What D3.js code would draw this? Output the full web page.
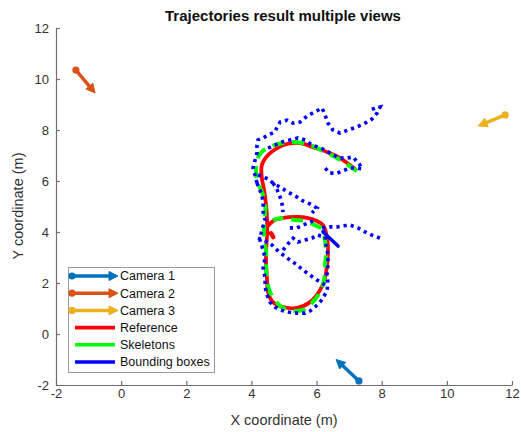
<!DOCTYPE html>
<html><head><meta charset="utf-8">
<script src="https://cdn.jsdelivr.net/npm/d3@7"></script>
<style>body{margin:0;background:#fff}svg{display:block}</style>
</head><body>
<svg id="chart" width="521" height="432"></svg>
<script>
// ---------- data ----------
const xTicks = [-2, 0, 2, 4, 6, 8, 10, 12];
const yTicks = [-2, 0, 2, 4, 6, 8, 10, 12];
const cameraNames = ["Camera 1", "Camera 2", "Camera 3"];
const cameraStart = [[7.30, -1.84], [-1.39, 10.35], [11.79, 8.59]];
const cameraEnd = [[6.60, -1.00], [-0.80, 9.45], [10.96, 8.16]];
const cameraColors = ["#0072BD", "#D95319", "#EDB120"];
const trackNames = ["Reference", "Skeletons", "Bounding boxes"];
const trackColors = ["#ff0000", "#00ff00", "#0000ff"];

const referenceTrack = [[7.18,6.47],[6.72,6.90],[6.32,7.14],[5.89,7.33],[5.49,7.49],[5.09,7.45],[4.79,7.29],[4.51,7.02],[4.32,6.63],[4.32,6.12],[4.39,5.65],[4.45,5.06],[4.48,4.47],[4.48,3.88],[4.45,3.29],[4.45,2.71],[4.48,2.12],[4.51,1.65],[4.66,1.25],[4.97,1.06],[5.40,1.02],[5.80,1.25],[6.11,1.73],[6.26,2.20],[6.32,2.71],[6.35,3.29],[6.32,3.80],[6.20,4.27],[6.01,4.43],[5.71,4.55],[5.40,4.59],[4.97,4.55],[4.66,4.43],[4.51,4.24]];
const referenceBlob = [[4.60,3.95],[4.67,3.80]];

const skeletonTrack = [[7.24,6.39],[6.87,6.71],[6.57,6.94],[6.26,7.14],[5.80,7.41],[5.34,7.53],[4.97,7.49],[4.63,7.37],[4.32,7.14],[4.17,6.82],[4.14,6.43],[4.17,6.04],[4.32,5.57],[4.42,5.14],[4.42,4.67],[4.39,4.16],[4.39,3.69],[4.45,3.22],[4.45,2.71],[4.48,2.12],[4.57,1.65],[4.76,1.25],[5.03,0.98],[5.34,0.90],[5.65,0.98],[5.86,1.22],[6.11,1.65],[6.23,2.12],[6.26,2.71],[6.29,3.18],[6.26,3.65],[6.17,4.12],[5.95,4.27],[5.65,4.43],[5.34,4.47],[4.97,4.55],[4.66,4.47]];

const bboxTrack = [
 [4.17,5.92],[4.11,6.24],[4.05,6.51],[4.17,7.10],[4.17,7.41],[4.20,7.61],[4.36,7.69],[4.51,7.80],[4.72,7.92],[4.79,8.12],[4.88,8.31],[5.09,8.39],[5.28,8.27],[5.49,8.31],[5.71,8.55],[5.95,8.71],[6.17,8.86],[6.26,8.59],[6.35,8.27],[6.50,8.00],[6.72,7.88],[6.97,8.00],[7.24,8.12],[7.49,8.27],[7.70,8.43],[7.86,8.67],[7.95,8.90],[7.80,8.86],[7.64,8.78],
 null,
 [4.51,7.29],[4.72,7.41],[4.94,7.53],[5.18,7.61],[5.43,7.69],[5.65,7.61],[5.86,7.41],[6.04,7.33],[6.26,7.22],[6.50,7.02],[6.72,6.90],[6.93,6.90],[7.12,6.94],[7.33,6.63],[7.40,6.47],[7.24,6.51],[7.03,6.51],[6.87,6.43],[6.63,6.31],[6.41,6.31],[6.26,6.51],
 null,
 [4.17,5.92],[4.26,5.65],[4.32,5.45],[4.36,5.14],[4.36,4.78],[4.42,4.47],[4.32,4.08],[4.26,3.69],[4.36,3.29],[4.42,2.98],[4.36,2.59],[4.42,2.20],[4.42,1.84],[4.48,1.53],[4.57,1.25],[4.72,1.06],[4.88,0.94],[5.12,0.86],[5.40,0.82],[5.65,0.82],[5.80,0.90],[5.95,1.06],[6.11,1.25],[6.23,1.49],[6.32,1.69],[6.35,2.00],[6.32,2.31],[6.35,2.71],[6.35,3.10],[6.29,3.49],[6.26,3.80],[6.20,4.08],
 null,
 [4.20,6.24],[4.36,6.16],[4.51,6.08],[4.66,5.92],[4.88,5.76],[5.12,5.57],[5.40,5.37],[5.58,5.22],[5.80,5.10],[6.01,4.94],[5.86,4.75],
 null,
 [4.66,5.92],[4.79,5.65],[4.88,5.37],[4.94,5.10],[4.97,4.78],
 null,
 [6.17,4.16],[6.41,4.20],[6.63,4.20],[6.81,4.24],[7.03,4.27],[7.27,4.16],[7.49,4.00],[7.70,3.88],[7.95,3.76],
 null,
 [4.20,3.76],[4.36,3.69],[4.51,3.61],[4.63,3.49],[4.79,3.29],[4.97,3.10],[5.18,2.90],[5.40,2.71],[5.58,2.51],[5.80,2.31],[6.01,2.12],[6.17,2.00],[6.29,1.88],
 null,
 [4.97,3.29],[5.12,3.53],[5.28,3.76],[5.43,3.61],[5.65,3.69],[5.86,3.76],[6.01,3.88],[6.17,3.84],
 null,
 [5.18,4.16],[5.40,4.16],[5.58,4.27],[5.74,4.35],[5.89,4.43]
];
const bboxDense = [[6.20,4.00],[6.66,3.45]];

// ---------- layout ----------
const svg = d3.select("#chart");
const X0 = 56, X1 = 512, Y0 = 385, Y1 = 28;
const x = d3.scaleLinear().domain([-2, 12]).range([X0, X1]);
const y = d3.scaleLinear().domain([-2, 12]).range([Y0, Y1]);
const FONT = "'Liberation Sans', Arial, Helvetica, sans-serif";
const axisColor = "#6e6e6e", textColor = "#333";

// axes
const gx = svg.append("g").attr("transform", `translate(0,${Y0})`)
  .call(d3.axisBottom(x).tickValues(xTicks).tickFormat(d3.format("d")).tickSizeInner(-4).tickSizeOuter(0).tickPadding(4));
const gy = svg.append("g").attr("transform", `translate(${X0},0)`)
  .call(d3.axisLeft(y).tickValues(yTicks).tickFormat(d3.format("d")).tickSizeInner(-4).tickSizeOuter(0).tickPadding(7));
[gx, gy].forEach(g => {
  g.select(".domain").attr("stroke", axisColor).attr("stroke-width", 1.2);
  g.selectAll(".tick line").attr("stroke", axisColor).attr("stroke-width", 1.2);
  g.selectAll(".tick text").attr("fill", textColor).style("font-family", FONT).style("font-size", "13px");
});
gx.selectAll(".tick text").text(d => d < 0 ? "-" + Math.abs(d) : d);
gy.selectAll(".tick text").text(d => d < 0 ? "-" + Math.abs(d) : d);

// title & labels
svg.append("text").attr("x", 283).attr("y", 21).attr("text-anchor", "middle")
  .style("font-family", FONT).style("font-size", "15px").style("font-weight", "bold").attr("fill", "#111")
  .text("Trajectories result multiple views");
svg.append("text").attr("x", 284).attr("y", 425).attr("text-anchor", "middle")
  .style("font-family", FONT).style("font-size", "14.5px").attr("fill", textColor)
  .text("X coordinate (m)");
svg.append("text").attr("transform", "translate(23,206) rotate(-90)").attr("text-anchor", "middle")
  .style("font-family", FONT).style("font-size", "14.5px").attr("fill", textColor)
  .text("Y coordinate (m)");

// tracks
const line = d3.line().defined(d => d !== null).x(d => x(d[0])).y(d => y(d[1]));
const smooth = d3.line().x(d => x(d[0])).y(d => y(d[1])).curve(d3.curveCatmullRom);

svg.append("path").attr("d", smooth(referenceTrack)).attr("fill", "none")
  .attr("stroke", trackColors[0]).attr("stroke-width", 3.8).attr("stroke-linejoin", "round").attr("stroke-linecap", "round");
svg.append("path").attr("d", line(referenceBlob)).attr("fill", "none")
  .attr("stroke", trackColors[0]).attr("stroke-width", 4.5).attr("stroke-linecap", "round");
svg.append("path").attr("d", smooth(skeletonTrack)).attr("fill", "none")
  .attr("stroke", trackColors[1]).attr("stroke-width", 4).attr("stroke-dasharray", "12,8");
svg.append("path").attr("d", line(bboxTrack)).attr("fill", "none")
  .attr("stroke", trackColors[2]).attr("stroke-width", 3.6).attr("stroke-dasharray", "3.2,4");
svg.append("path").attr("d", line(bboxDense)).attr("fill", "none")
  .attr("stroke", trackColors[2]).attr("stroke-width", 3.6).attr("stroke-linecap", "round");

// camera arrows
function drawArrow(g, p0, p1, color) {
  const dx = p1[0] - p0[0], dy = p1[1] - p0[1];
  const L = Math.hypot(dx, dy), ux = dx / L, uy = dy / L;
  const hl = 9, hw = 4.5;
  const bx = p1[0] - ux * hl, by = p1[1] - uy * hl;
  g.append("line").attr("x1", p0[0]).attr("y1", p0[1]).attr("x2", bx + ux * 2).attr("y2", by + uy * 2)
    .attr("stroke", color).attr("stroke-width", 3.5).attr("stroke-linecap", "round");
  g.append("polygon").attr("points",
    `${p1[0]},${p1[1]} ${bx - uy * hw},${by + ux * hw} ${bx + uy * hw},${by - ux * hw}`)
    .attr("fill", color).attr("stroke", color).attr("stroke-width", 1).attr("stroke-linejoin", "round");
  g.append("circle").attr("cx", p0[0]).attr("cy", p0[1]).attr("r", 3.6).attr("fill", color);
}
const camG = svg.append("g");
cameraStart.forEach((s, i) => {
  drawArrow(camG, [x(s[0]), y(s[1])], [x(cameraEnd[i][0]), y(cameraEnd[i][1])], cameraColors[i]);
});

// legend
const lg = svg.append("g");
lg.append("rect").attr("x", 68.5).attr("y", 267.5).attr("width", 146).attr("height", 105)
  .attr("fill", "#fff").attr("stroke", "#9a9a9a").attr("stroke-width", 1);
const rowY = i => 276 + i * 17.2;
cameraNames.forEach((n, i) => {
  drawArrow(lg, [72, rowY(i)], [118, rowY(i)], cameraColors[i]);
});
trackNames.forEach((n, i) => {
  lg.append("line").attr("x1", 75).attr("x2", 115).attr("y1", rowY(i + 3)).attr("y2", rowY(i + 3))
    .attr("stroke", trackColors[i]).attr("stroke-width", 3.6);
});
cameraNames.concat(trackNames).forEach((n, i) => {
  lg.append("text").attr("x", 120).attr("y", rowY(i)).attr("dy", "0.35em")
    .style("font-family", FONT).style("font-size", "12.5px").attr("fill", "#111").text(n);
});
</script>
</body></html>
